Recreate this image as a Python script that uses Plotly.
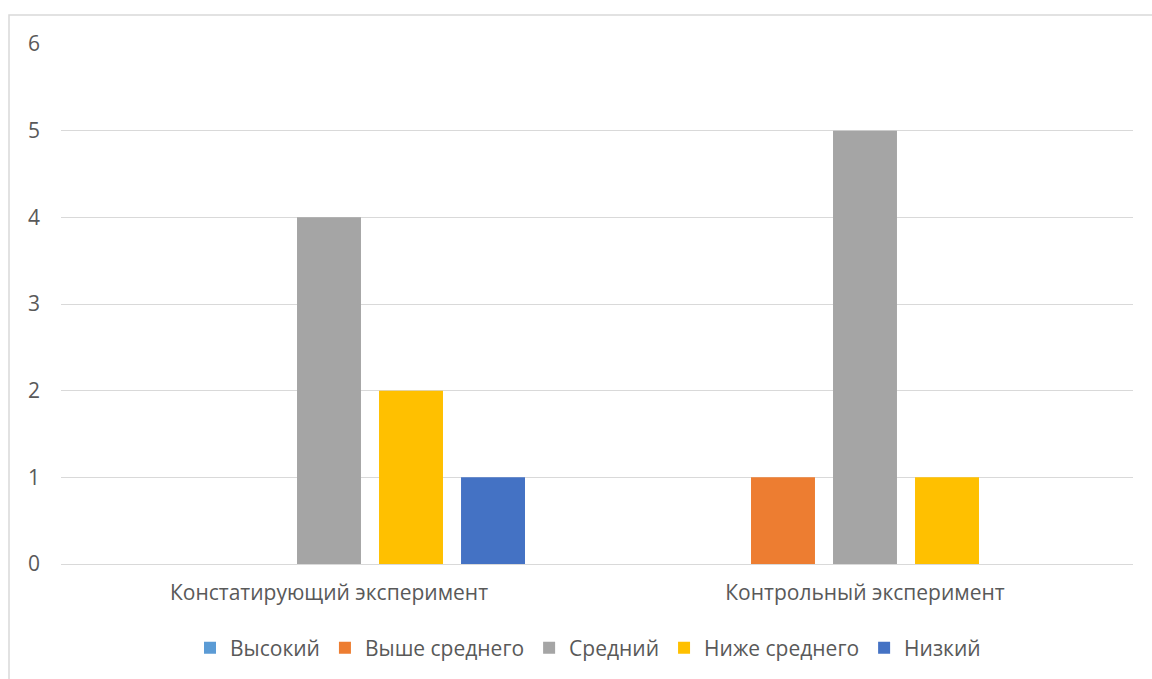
import plotly.graph_objects as go

categories = ["Констатирующий эксперимент", "Контрольный эксперимент"]
series_names = ["Высокий", "Выше среднего", "Средний", "Ниже среднего", "Низкий"]
vysokiy = [0, 0]
vyshe_srednego = [0, 1]
sredniy = [4, 5]
nizhe_srednego = [2, 1]
nizkiy = [1, 0]
colors = ["#5b9bd5", "#ed7d31", "#a5a5a5", "#ffc000", "#4472c4"]

values = [vysokiy, vyshe_srednego, sredniy, nizhe_srednego, nizkiy]

fig = go.Figure()
for name, vals, col in zip(series_names, values, colors):
    fig.add_trace(go.Bar(x=categories, y=vals, name=name, marker=dict(color=col, line=dict(width=0))))

L, R, T, B = 61, 19, 44, 114
W, H = 1152, 679
pw, ph = W - L - R, H - T - B

def px(x):
    return (x - L) / pw

def py(y):
    return (H - B - y) / ph

fig.update_layout(
    width=W, height=H,
    margin=dict(l=L, r=R, t=T, b=B),
    paper_bgcolor="white", plot_bgcolor="white",
    barmode="group", bargap=0.235, bargroupgap=0.22,
    font=dict(family="Open Sans", size=21, color="#595959"),
    showlegend=True,
    legend=dict(orientation="h", x=px(588), xanchor="center", y=py(648), yanchor="middle",
                font=dict(size=21, color="#595959"), traceorder="normal",
                itemwidth=30),
    xaxis=dict(showgrid=False, showline=False, ticks="", ticklabelstandoff=14,
               tickfont=dict(size=21, color="#595959")),
    yaxis=dict(range=[0, 6], dtick=1, showgrid=True, gridcolor="#d9d9d9", gridwidth=1,
               zeroline=True, zerolinecolor="#d9d9d9", zerolinewidth=1, showline=False,
               ticks="", ticklabelstandoff=20, tickfont=dict(size=21, color="#595959")),
    shapes=[dict(type="rect", xref="paper", yref="paper", x0=px(9), x1=px(1170), y0=py(700), y1=py(15),
                 line=dict(color="#d9d9d9", width=1.5), fillcolor="rgba(0,0,0,0)", layer="below")],
)

fig.write_html("out.html")
